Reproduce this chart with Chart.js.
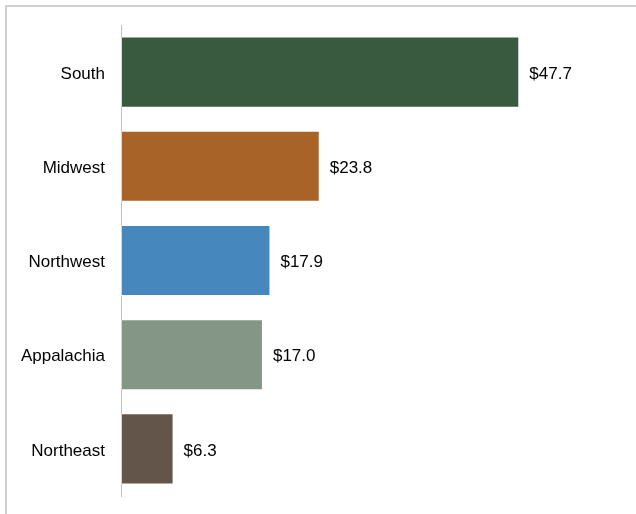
<!DOCTYPE html>
<html>
<head>
<meta charset="utf-8">
<script src="https://cdn.jsdelivr.net/npm/chart.js@4/dist/chart.umd.min.js"></script>
<style>
  html, body { margin: 0; padding: 0; background: #fff; overflow: hidden; }
  #wrap { position: relative; width: 636px; height: 514px; overflow: hidden; }
  #frame { position: absolute; left: 5px; top: 5px; right: -10px; bottom: -10px;
           border-top: 2px solid #cfcfcf; border-left: 2px solid #cfcfcf; }
  canvas { position: absolute; left: 0; top: 0; }
</style>
</head>
<body>
<div id="wrap">
  <div id="frame"></div>
  <canvas id="chart-area" width="636" height="514"></canvas>
</div>
<script>
// regions and spending ($ millions)
var regions = ['South', 'Midwest', 'Northwest', 'Appalachia', 'Northeast'];
var amounts = [47.7, 23.8, 17.9, 17.0, 6.3];
var bar_colors = ['#3a5a40', '#a86428', '#4688bd', '#849685', '#64554b'];

// writes "$xx.x" just past the end of each bar
var valueLabels = {
  id: 'valueLabels',
  afterDatasetsDraw: function(chart){
    var ctx = chart.ctx;
    var meta = chart.getDatasetMeta(0);
    ctx.save();
    ctx.font = '17px "Liberation Sans", Arial, sans-serif';
    ctx.fillStyle = '#000';
    ctx.textAlign = 'left';
    ctx.textBaseline = 'middle';
    meta.data.forEach(function(bar, i){
      ctx.fillText('$' + amounts[i].toFixed(1), bar.x + 10, bar.y + 2);
    });
    ctx.restore();
  }
};

var config = {
  type: 'bar',
  data: {
    labels: regions,
    datasets: [{
      data: amounts,
      backgroundColor: bar_colors,
      borderColor: 'rgba(255,255,255,0.35)',
      borderWidth: 1,
      borderSkipped: false,
      categoryPercentage: 1.0,
      barPercentage: 0.755
    }]
  },
  options: {
    indexAxis: 'y',
    responsive: false,
    animation: false,
    layout: { padding: { left: 0, top: 25, right: 14, bottom: 18 } },
    plugins: {
      legend: { display: false },
      tooltip: { enabled: false }
    },
    scales: {
      x: {
        display: false,
        min: 0,
        max: 60
      },
      y: {
        // fixed label column; tick padding shouldn't push the plot in vertically
        afterFit: function(scale){
          scale.width = 121;
          scale.paddingTop = 0;
          scale.paddingBottom = 0;
        },
        grid: { display: false, drawTicks: false },
        border: { display: true, color: '#c0c0c0', width: 1 },
        ticks: {
          padding: 16,
          labelOffset: 2,
          color: '#000',
          font: { family: '"Liberation Sans", Arial, sans-serif', size: 17 }
        }
      }
    }
  },
  plugins: [valueLabels]
};

var ctx = document.getElementById('chart-area').getContext('2d');
var chart = new Chart(ctx, config);
</script>
</body>
</html>
